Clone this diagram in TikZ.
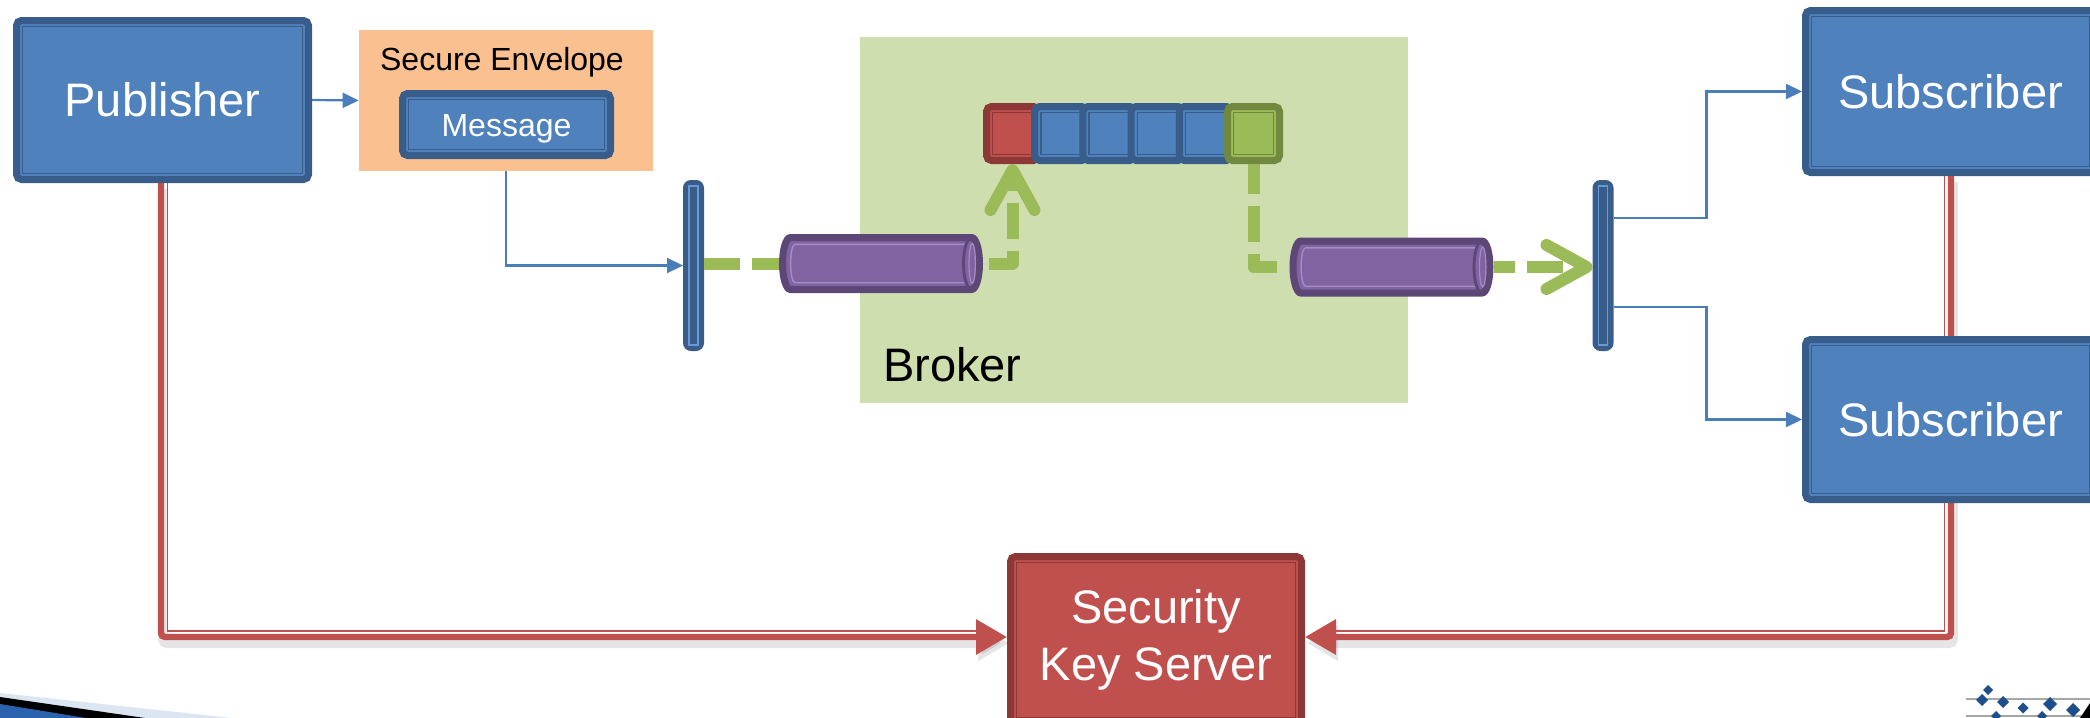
\documentclass[tikz,border=0pt]{standalone}
\usepackage{fontspec}
\setmainfont{Liberation Sans}
\usetikzlibrary{arrows.meta}

\definecolor{blueF}{HTML}{4F81BD}
\definecolor{blueD}{HTML}{385D8A}
\definecolor{blueL}{HTML}{6A98D0}
\definecolor{redF}{HTML}{C0504D}
\definecolor{redD}{HTML}{8C3836}
\definecolor{greenF}{HTML}{9BBB59}
\definecolor{greenD}{HTML}{71893F}
\definecolor{purpleF}{HTML}{8064A2}
\definecolor{purpleD}{HTML}{5C4776}
\definecolor{purpleL}{HTML}{A48CC4}
\definecolor{peach}{HTML}{FAC090}
\definecolor{brokerbg}{HTML}{CFDEAF}
\definecolor{wireblue}{HTML}{4A7EBB}
\definecolor{swooshlight}{HTML}{DCE6F2}
\definecolor{swooshblue}{HTML}{2B62AD}
\definecolor{logoblue}{HTML}{1F4E8C}

% horizontal pipe drawn round a named pipe node (outer size 102pt x 29.5pt)
\newcommand\pipebody[1]{%
  \draw[fill=purpleF, draw=purpleD, line width=3.5pt]
    ([shift={(-45.25pt,13pt)}]#1.center) -- ([shift={(45.25pt,13pt)}]#1.center)
    arc[start angle=90, end angle=-90, x radius=4pt, y radius=13pt]
    -- ([shift={(-45.25pt,-13pt)}]#1.center)
    arc[start angle=270, end angle=90, x radius=4pt, y radius=13pt] -- cycle;
  \draw[purpleL, line width=0.7pt]
    ([shift={(42pt,9.6pt)}]#1.center) -- ([shift={(-43pt,9.6pt)}]#1.center)
    arc[start angle=90, end angle=270, x radius=2.2pt, y radius=9.6pt]
    -- ([shift={(42pt,-9.6pt)}]#1.center);
  \draw[purpleD, line width=1.4pt]
    ([shift={(45.25pt,13pt)}]#1.center)
    arc[start angle=90, end angle=270, x radius=4pt, y radius=13pt];
  \draw[purpleL, line width=0.6pt]
    ([shift={(45.6pt,0pt)}]#1.center) ellipse [x radius=1.6pt, y radius=10pt];
}

\begin{document}
\begin{tikzpicture}[x=0.5pt, y=-0.5pt,
  bigfont/.style={font=\fontsize{23.5}{28.5}\selectfont},
  lbl/.style={bigfont, text height=16.8pt, text depth=0pt},
  smalltxt/.style={font=\fontsize{16}{19}\selectfont},
  framed/.style 2 args={rounded corners=2.5pt, fill=#1, draw=#2, line width=3.5pt, inner sep=0pt,
    path picture={\draw[#2, line width=0.7pt, sharp corners]
      ([shift={(3.1pt,-3.1pt)}]path picture bounding box.north west) rectangle
      ([shift={(-3.1pt,3.1pt)}]path picture bounding box.south east);}},
  bluebox/.style={framed={blueF}{blueD}, text=white},
  redbox/.style={framed={redF}{redD}, text=white},
  greenbox/.style={framed={greenF}{greenD}},
  cell/.style={minimum width=26pt, minimum height=27pt},
  busbar/.style={rounded corners=3pt, fill=blueD, draw=blueD, line width=2pt, inner sep=0pt,
    minimum width=8.5pt, minimum height=83.5pt,
    path picture={\draw[blueL, line width=0.6pt, sharp corners]
      ([shift={(2pt,-2pt)}]path picture bounding box.north west) rectangle
      ([shift={(-2pt,2pt)}]path picture bounding box.south east);}},
  pipebox/.style={rectangle, inner sep=0pt, outer sep=0pt, minimum width=102pt, minimum height=29.5pt},
  wirearrow/.style={draw=wireblue, line width=1.1pt, -{Triangle[length=8pt,width=7.5pt]}},
  flow/.style={draw=greenF, line width=6pt, dash pattern=on 18pt off 6pt, line join=round},
  flowtip/.style={-{Straight Barb[length=20pt,width=22pt,round]}},
  keyline/.style={draw=redF, line width=3.2pt, rounded corners=2pt},
  keythin/.style={draw=redF, line width=0.9pt},
  keytip/.style={-{Triangle[length=15.5pt,width=17pt]}},
  castshadow/.style={draw=black, line width=5pt, opacity=0.1, rounded corners=2pt,
    transform canvas={shift={(1pt,-3pt)}}},
]
\useasboundingbox (0,0) rectangle (2090,718);
\clip (0,0) rectangle (2090,718);

% broker area
\node[fill=brokerbg, minimum width=274pt, minimum height=183pt, inner sep=0pt] (broker) at (1134,220) {};
\node[bigfont, anchor=base west] (brokerlbl) at (876,381) {Broker};

% publisher and envelope
\node[bluebox, lbl, minimum width=146pt, minimum height=79.5pt] (pub) at (162.5,100) {Publisher};
\node[fill=peach, minimum width=147pt, minimum height=70.5pt, inner sep=0pt] (env) at (506,100.5) {};
\node[smalltxt, anchor=base] (envtitle) at (502,70) {Secure Envelope};
\node[bluebox, smalltxt, text height=11.5pt, text depth=0pt, minimum width=104pt, minimum height=31pt] (msg) at (506.5,124.5) {Message};

% bus bars and pipes
\node[busbar] (barL) at (693.5,265.5) {};
\node[busbar] (barR) at (1603,265.5) {};
\node[pipebox] (cylA) at (881,263.5) {};
\node[pipebox] (cylB) at (1391.5,267) {};
\pipebody{cylA}
\pipebody{cylB}

% queue
\node[redbox, cell] (q1) at (1012.5,133.5) {};
\node[bluebox, cell] (q2) at (1060.7,133.5) {};
\node[bluebox, cell] (q3) at (1108.9,133.5) {};
\node[bluebox, cell] (q4) at (1157.1,133.5) {};
\node[bluebox, cell] (q5) at (1205.3,133.5) {};
\node[greenbox, cell] (q6) at (1253.5,133.5) {};

% subscriber and key server
\node[bluebox, lbl, minimum width=145pt, minimum height=81pt] (sub1) at (1950.5,91.5) {Subscriber};
\node[redbox, bigfont, align=center, minimum width=145.5pt, minimum height=83.5pt] (ks) at (1156,640) {Security\\Key Server};

% key exchange lines
\draw[castshadow, keytip] ([xshift=-0.75pt]pub.south) |- ([yshift=1.5pt]ks.west);
\draw[castshadow, keytip] ([xshift=0.25pt]sub1.south) |- ([yshift=1.5pt]ks.east);
\draw[keyline, keytip] ([xshift=-0.75pt]pub.south) |- ([yshift=1.5pt]ks.west);
\draw[keythin] ([xshift=2.5pt]pub.south) |- ([xshift=-15.5pt,yshift=4.5pt]ks.west);
\draw[keyline, keytip] ([xshift=0.25pt]sub1.south) |- ([yshift=1.5pt]ks.east);
\draw[keythin] ([xshift=-3pt]sub1.south) |- ([xshift=15.5pt,yshift=4.5pt]ks.east);

\node[bluebox, lbl, minimum width=145pt, minimum height=80pt] (sub2) at (1950.5,419.5) {Subscriber};

% message wiring
\draw[wirearrow] (pub.east) -- (env.west);
\draw[wirearrow] (env.south) |- (barL.west);
\draw[wirearrow] ([yshift=23.75pt]barR.east) -- ++(93,0) |- (sub1.west);
\draw[wirearrow] ([yshift=-20.75pt]barR.east) -- ++(93,0) |- (sub2.west);

% message flow through the broker
\draw[flow] (cylA.west -| barL.east) -- (cylA.west);
\draw[flow, dash phase=21pt, flowtip] (cylA.east) -| (q1.south);
\draw[flow, dash phase=3pt] (q6.south) |- (cylB.west);
\draw[flow, dash phase=7.5pt, flowtip] (cylB.east) -- (cylB.east -| barR.west);

% footer swoosh
\fill[swooshlight] (0,693) -- (232,718) -- (0,718) -- cycle;
\fill[black] (0,697) -- (145,718) -- (0,718) -- cycle;
\fill[swooshblue] (0,704) -- (86,718) -- (0,718) -- cycle;

% footer logo
\draw[gray!70, line width=1pt] (1966,699) -- (2090,699);
\draw[gray!70, line width=1pt] (1966,716) -- (2090,716);
\foreach \x/\y/\s in {1988/690/5, 1982/700/6, 2003/702/6, 2023/708/5.5, 2050/704/7, 2073/710/7, 1996/716/5, 2042/716/5}
  \fill[logoblue] (\x,\y-\s) -- (\x+\s,\y) -- (\x,\y+\s) -- (\x-\s,\y) -- cycle;
\fill[black] (2090,703) -- (2090,718) -- (2080,718) -- cycle;
\end{tikzpicture}
\end{document}
